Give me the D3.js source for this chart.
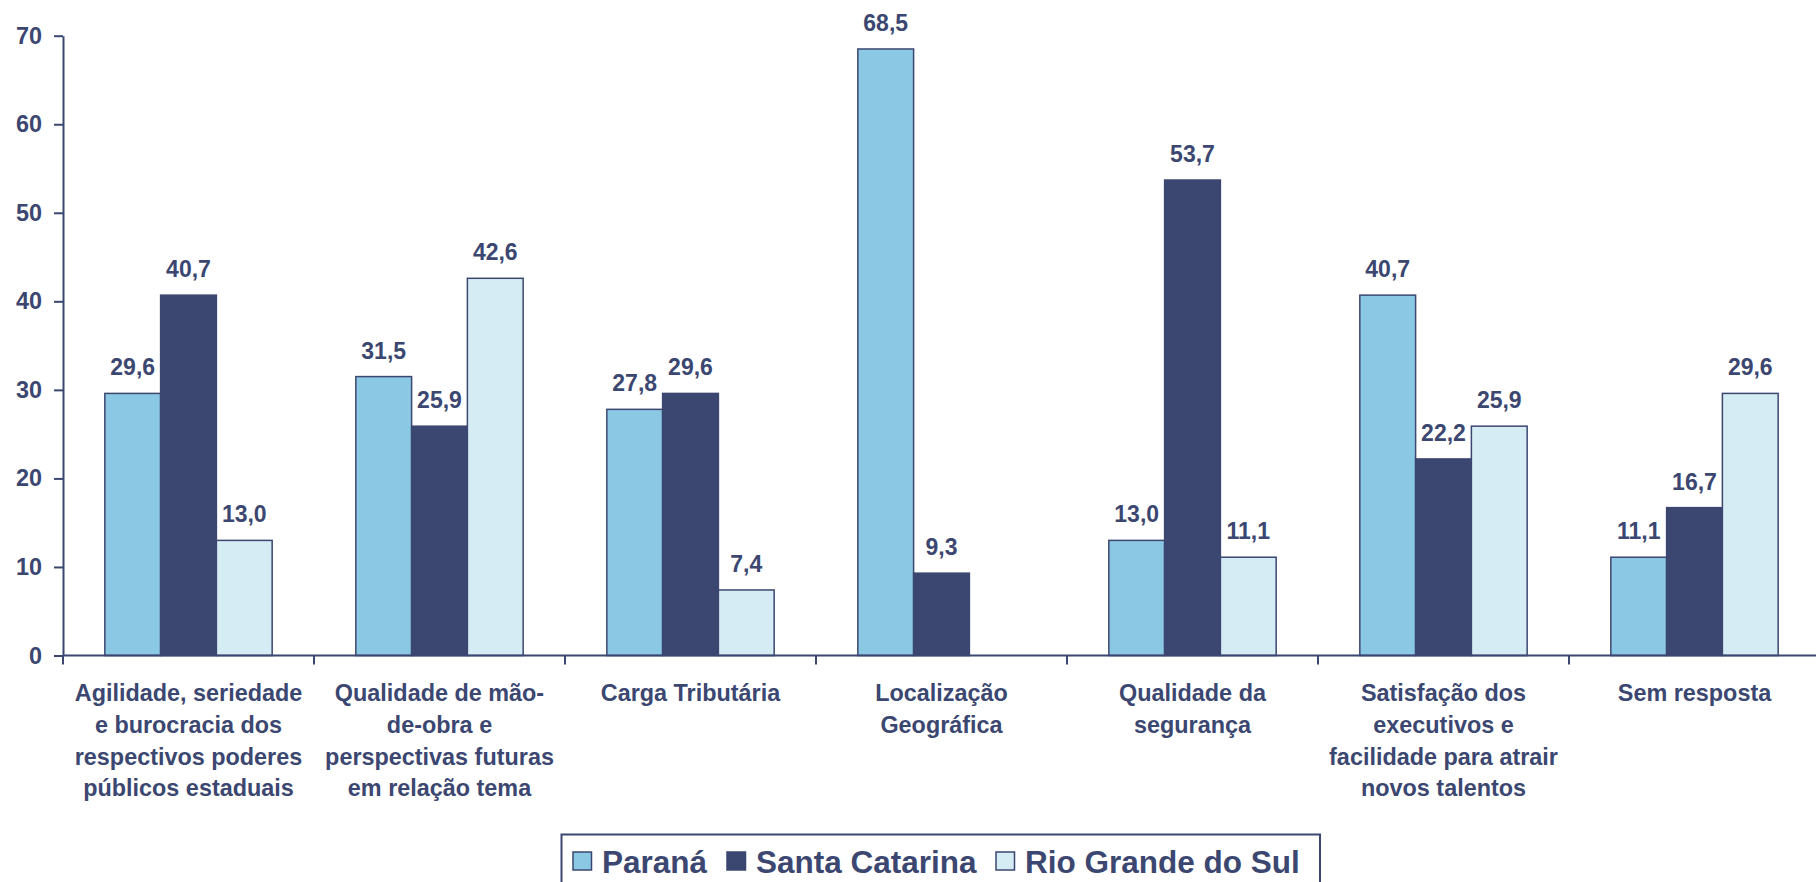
<!DOCTYPE html>
<html><head><meta charset="utf-8">
<script src="https://cdn.jsdelivr.net/npm/d3@7"></script>
<style>
html,body{margin:0;padding:0;background:#fff;overflow:hidden}
text{font-family:Arial,"Liberation Sans",sans-serif;font-weight:bold;fill:#3B4770}
</style></head>
<body><svg id="c" width="1816" height="882"></svg>
<script>
const categories = [
  ["Agilidade, seriedade","e burocracia dos","respectivos poderes","públicos estaduais"],
  ["Qualidade de mão-","de-obra e","perspectivas futuras","em relação tema"],
  ["Carga Tributária"],
  ["Localização","Geográfica"],
  ["Qualidade da","segurança"],
  ["Satisfação dos","executivos e","facilidade para atrair","novos talentos"],
  ["Sem resposta"]
];
const seriesNames = ["Paraná","Santa Catarina","Rio Grande do Sul"];
const parana = [29.6, 31.5, 27.8, 68.5, 13.0, 40.7, 11.1];
const santaCatarina = [40.7, 25.9, 29.6, 9.3, 53.7, 22.2, 16.7];
const rioGrande = [13.0, 42.6, 7.4, null, 11.1, 25.9, 29.6];
const yTicks = [0,10,20,30,40,50,60,70];
const colors = ["#8BC8E4","#3B4770","#D6ECF5"];
const ink = "#3B4770";

const svg = d3.select("#c");
const catIdx = categories.map((d,i)=>i);
const x0 = d3.scaleBand().domain(catIdx).range([63,1820]).padding(0);
const bw = x0.bandwidth();
const x1 = d3.scaleBand().domain([0,1,2]).range([bw/6, bw*5/6]).padding(0);
const y = d3.scaleLinear().domain([0,70]).range([655.5,35.7]);
const fmt = v => v.toFixed(1).replace(".",",");
const seriesVals = [parana, santaCatarina, rioGrande];

// bars
seriesVals.forEach((vals,s)=>{
  const g = svg.append("g");
  const data = vals.map((v,i)=>({v,i})).filter(d=>d.v!=null);
  g.selectAll("rect").data(data).join("rect")
    .attr("x", d=>x0(d.i)+x1(s))
    .attr("y", d=>y(d.v))
    .attr("width", x1.bandwidth())
    .attr("height", d=>y(0)-y(d.v))
    .attr("fill", colors[s]).attr("stroke", ink).attr("stroke-width",1.5);
  g.selectAll("text").data(data).join("text")
    .attr("x", d=>x0(d.i)+x1(s)+x1.bandwidth()/2)
    .attr("y", d=>y(d.v)-18)
    .attr("text-anchor","middle").attr("font-size",23)
    .text(d=>fmt(d.v));
});

// y axis
const yAxis = svg.append("g").attr("transform","translate(63,0)")
  .call(d3.axisLeft(y).tickValues(yTicks).tickSize(9).tickSizeOuter(0).tickPadding(12).tickFormat(d3.format("d")));
yAxis.selectAll("path,line").attr("stroke",ink).attr("stroke-width",2);
yAxis.selectAll("text").attr("font-size",23.4).attr("fill",ink).attr("font-family","Arial, 'Liberation Sans', sans-serif").attr("font-weight","bold");

// x axis
const xAxisG = svg.append("g");
xAxisG.append("line").attr("x1",63).attr("x2",1816).attr("y1",y(0)).attr("y2",y(0)).attr("stroke",ink).attr("stroke-width",2);
xAxisG.selectAll("line.t").data(d3.range(categories.length+1)).join("line").attr("class","t")
  .attr("x1",d=>63+d*bw).attr("x2",d=>63+d*bw).attr("y1",y(0)).attr("y2",y(0)+9)
  .attr("stroke",ink).attr("stroke-width",2);
const lbl = xAxisG.selectAll("text").data(categories.map((c,i)=>({c,i}))).join("text")
  .attr("text-anchor","middle").attr("font-size",23.4);
lbl.each(function(d){
  const t = d3.select(this);
  d.c.forEach((line,k)=>{
    t.append("tspan").attr("x", x0(d.i)+bw/2).attr("y", 701 + k*31.8).text(line);
  });
});

// legend
const lg = svg.append("g");
lg.append("rect").attr("x",561.5).attr("y",834.5).attr("width",758.5).attr("height",80)
  .attr("fill","#fff").attr("stroke",ink).attr("stroke-width",2);
const legX = [573, 727, 996];
seriesNames.forEach((n,s)=>{
  lg.append("rect").attr("x",legX[s]).attr("y",852).attr("width",18.5).attr("height",18)
    .attr("fill",colors[s]).attr("stroke",ink).attr("stroke-width",1.5);
  lg.append("text").attr("x",legX[s]+29).attr("y",872.5)
    .attr("font-size",31.5).text(n);
});
</script></body></html>
